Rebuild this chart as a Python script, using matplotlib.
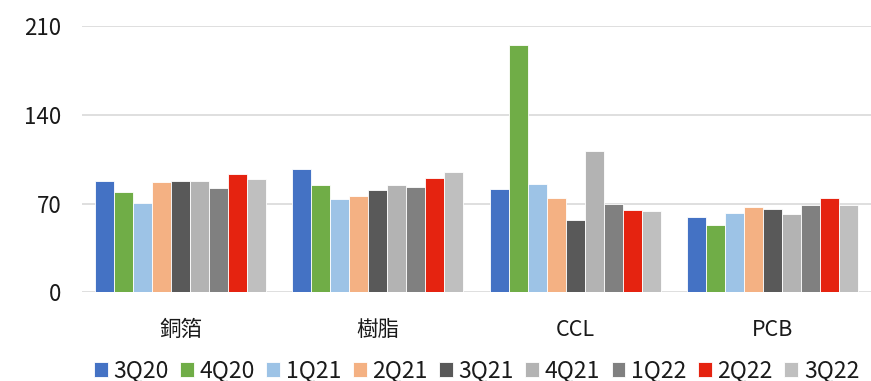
import numpy as np
import matplotlib.pyplot as plt

plt.rcParams['font.family'] = ['Noto Sans CJK TC', 'DejaVu Sans']

categories = ['銅箔', '樹脂', 'CCL', 'PCB']
quarters = ['3Q20', '4Q20', '1Q21', '2Q21', '3Q21', '4Q21', '1Q22', '2Q22', '3Q22']

# 每一季在四個類別中的數值
q3_20 = [87.5, 97.0, 81.2, 59.1]
q4_20 = [79.3, 84.6, 195.0, 53.3]
q1_21 = [70.2, 73.6, 85.4, 62.3]
q2_21 = [87.0, 75.9, 74.1, 67.0]
q3_21 = [87.5, 80.9, 56.8, 65.9]
q4_21 = [88.0, 84.9, 111.7, 61.5]
q1_22 = [82.0, 83.0, 69.9, 69.1]
q2_22 = [93.0, 89.9, 64.6, 74.4]
q3_22 = [89.3, 94.9, 63.8, 69.1]

series = [q3_20, q4_20, q1_21, q2_21, q3_21, q4_21, q1_22, q2_22, q3_22]
colors = ['#4472C4', '#70AD47', '#9DC3E6', '#F4B183', '#595959',
          '#B3B3B3', '#808080', '#E52310', '#BFBFBF']

yticks = [0, 70, 140, 210]

fig = plt.figure(figsize=(8.71, 3.81), dpi=100)
ax = fig.add_axes([82 / 871, 1 - 292.3 / 381, 1 - 82 / 871, (292.3 - 26) / 381])

x = np.arange(len(categories))
w = 0.0963
n = len(series)
for i, (vals, c) in enumerate(zip(series, colors)):
    ax.bar(x + (i - (n - 1) / 2) * w, vals, width=w, color=c,
           edgecolor='white', linewidth=0.6, label=quarters[i], zorder=3)

ax.set_xlim(-0.5, 3.5)
ax.set_ylim(0, 210)
ax.set_yticks(yticks)
ax.set_xticks(x)
ax.set_xticklabels(categories)
ax.grid(axis='y', color='#D9D9D9', linewidth=1.2, zorder=0)
for s in ax.spines.values():
    s.set_visible(False)
ax.tick_params(axis='both', length=0, colors='#1a1a1a')
ax.tick_params(axis='y', pad=15, labelsize=16)
ax.tick_params(axis='x', pad=19, labelsize=15.5)

ax.legend(loc='center', bbox_to_anchor=(0.5, -0.295), ncol=9, frameon=False,
          fontsize=16.5, handlelength=0.6, handleheight=0.6, handletextpad=0.25,
          columnspacing=0.5, labelcolor='#1a1a1a')

fig.savefig('out.png', dpi=100)
